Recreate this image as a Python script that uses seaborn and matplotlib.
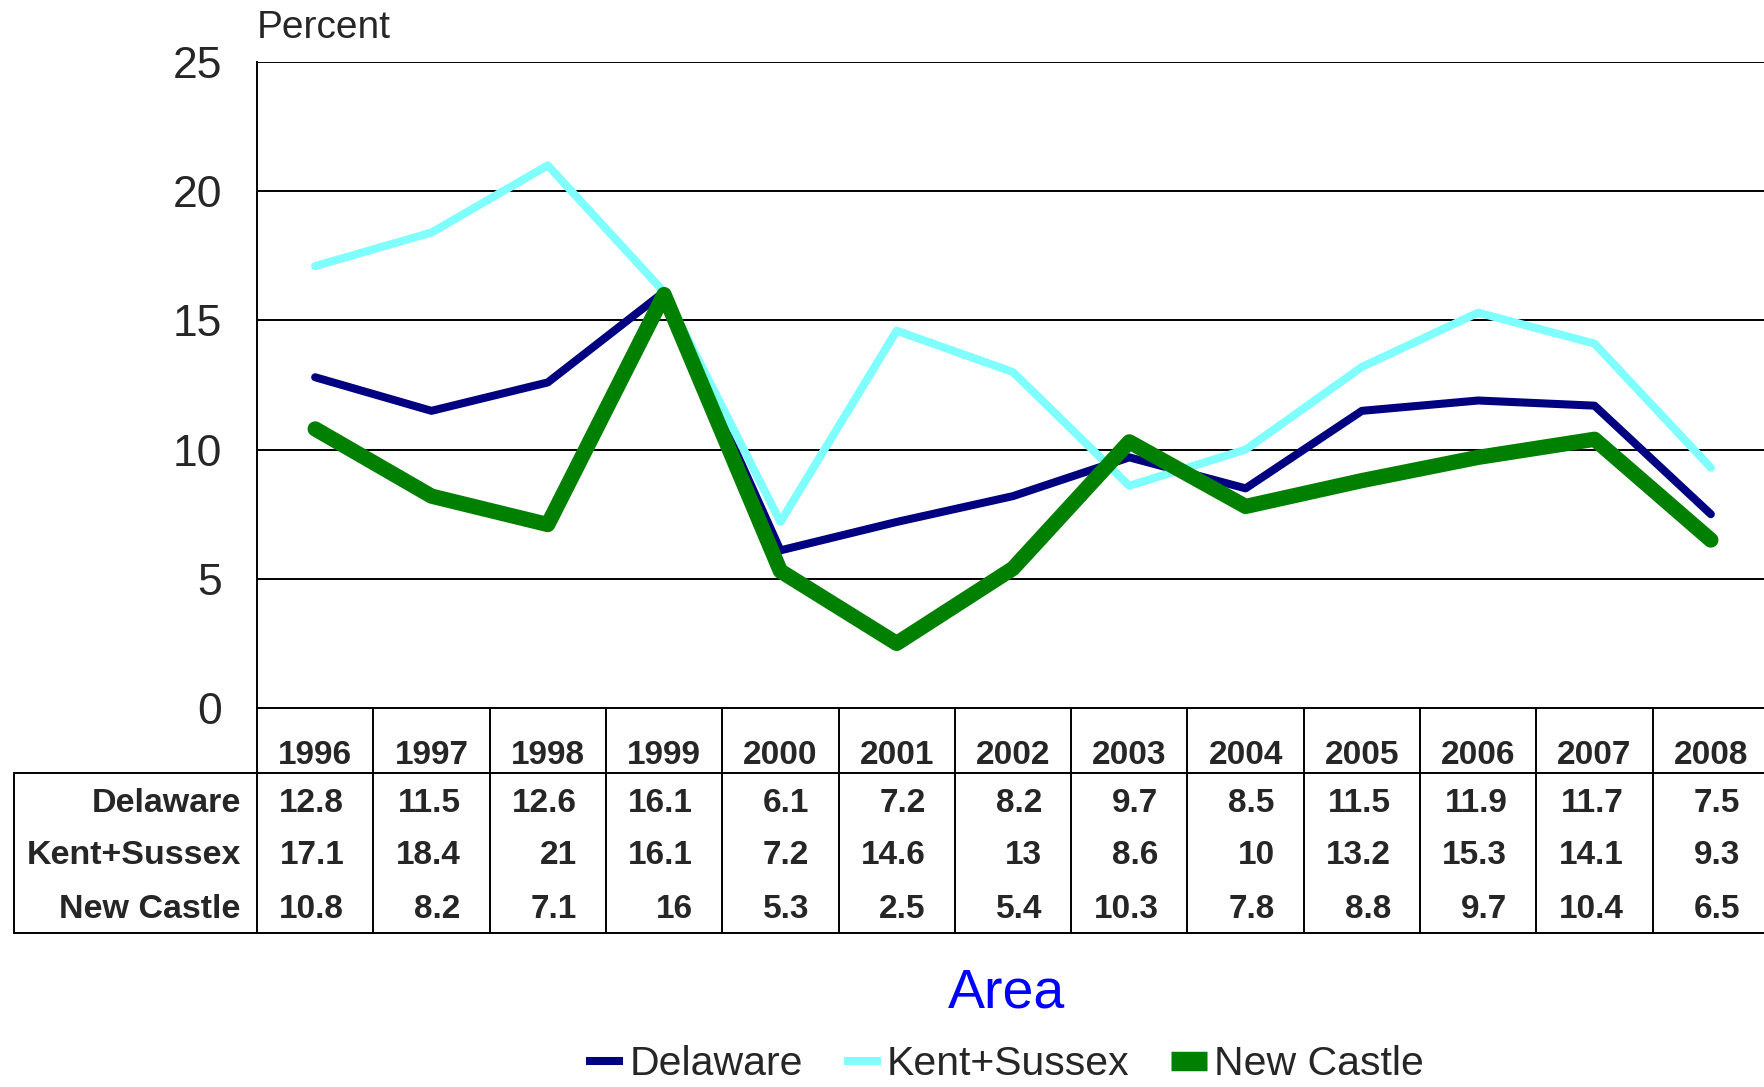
import pandas as pd
import seaborn as sns
from matplotlib import pyplot as plt
from matplotlib.lines import Line2D

# chart data
years = ["1996", "1997", "1998", "1999", "2000", "2001", "2002",
         "2003", "2004", "2005", "2006", "2007", "2008"]
delaware = [12.8, 11.5, 12.6, 16.1, 6.1, 7.2, 8.2, 9.7, 8.5, 11.5, 11.9, 11.7, 7.5]
kent_sussex = [17.1, 18.4, 21, 16.1, 7.2, 14.6, 13, 8.6, 10, 13.2, 15.3, 14.1, 9.3]
new_castle = [10.8, 8.2, 7.1, 16, 5.3, 2.5, 5.4, 10.3, 7.8, 8.8, 9.7, 10.4, 6.5]
areas = ["Delaware", "Kent+Sussex", "New Castle"]
y_ticks = [0, 5, 10, 15, 20, 25]

colors = {"Delaware": "#000080", "Kent+Sussex": "#80FFFF", "New Castle": "#008000"}
widths = {"Delaware": 5.8, "Kent+Sussex": 5.8, "New Castle": 11}

series = {"Delaware": delaware, "Kent+Sussex": kent_sussex, "New Castle": new_castle}
df = pd.concat([pd.DataFrame({"Year": years, "Percent": series[a], "Area": a})
                for a in areas], ignore_index=True)

sns.set_style("white")
plt.rcParams["font.family"] = ["Liberation Sans", "DejaVu Sans"]

W, H = 1765, 1087
fig = plt.figure(figsize=(W / 100, H / 100), dpi=100)

# main plot area (pixel layout converted to figure fractions)
left_px, right_px, top_px, bot_px = 257, 1769, 62, 708
ax = fig.add_axes([left_px / W, 1 - bot_px / H, (right_px - left_px) / W,
                   (bot_px - top_px) / H])

for a in areas:
    sub = df[df["Area"] == a]
    sns.lineplot(data=sub, x="Year", y="Percent", color=colors[a],
                 linewidth=widths[a], ax=ax, sort=False,
                 solid_capstyle="round", solid_joinstyle="round")

ax.set_xlim(-0.5, len(years) - 0.5)
ax.set_ylim(0, 25)
ax.set_yticks(y_ticks)
ax.set_yticklabels([str(t) for t in y_ticks], fontsize=32)
ax.tick_params(axis="y", length=0, pad=25)
ax.set_xticks([])
ax.set_xlabel("")
ax.set_ylabel("")
for t in y_ticks[1:]:
    ax.axhline(t, color="black", lw=1.4, zorder=0.5)
for s in ["top", "right", "bottom"]:
    ax.spines[s].set_visible(False)
ax.spines["left"].set_color("black")
ax.spines["left"].set_linewidth(1.4)

fig.text(left_px / W, 1 - 28 / H, "Percent", fontsize=28, va="center", ha="left")

# data table below the plot
tab_left_px, tab_bot_px = 13.5, 933
tax = fig.add_axes([tab_left_px / W, 1 - tab_bot_px / H,
                    (right_px - tab_left_px) / W, (tab_bot_px - bot_px) / H])
x_left = -0.5 - (left_px - tab_left_px) * len(years) / (right_px - left_px)
tax.set_xlim(x_left, len(years) - 0.5)
tax.set_ylim(225, 0)
tax.axis("off")

lw = 1.4
tax.plot([-0.5, len(years) - 0.5], [0, 0], color="black", lw=lw, clip_on=False)
tax.plot([x_left, len(years) - 0.5], [65, 65], color="black", lw=lw, clip_on=False)
tax.plot([x_left, len(years) - 0.5], [225, 225], color="black", lw=lw, clip_on=False)
tax.plot([x_left, x_left], [65, 225], color="black", lw=lw, clip_on=False)
for i in range(len(years)):
    tax.plot([i - 0.5, i - 0.5], [0, 225], color="black", lw=lw, clip_on=False)

for i, yr in enumerate(years):
    tax.text(i, 48, yr, ha="center", va="center", fontsize=24, fontweight="bold")

row_y = [95, 148, 201]
for r, a in enumerate(areas):
    tax.text(-0.64, row_y[r], a, ha="right", va="center", fontsize=24.5,
             fontweight="bold")
    for i, v in enumerate(series[a]):
        tax.text(i + 0.25, row_y[r], f"{v:g}", ha="right", va="center",
                 fontsize=24, fontweight="bold")

fig.text(1007 / W, 1 - 993 / H, "Area", color="#0000FF", fontsize=40,
         ha="center", va="center")

handles = [Line2D([0], [0], color=colors[a], lw=widths[a] if a != "New Castle" else 14,
                  solid_capstyle="butt") for a in areas]
fig.legend(handles, areas, loc="center", bbox_to_anchor=(1005 / W, 1 - 1064 / H),
           ncol=3, frameon=False, fontsize=29.5, handlelength=0.9,
           handletextpad=0.15, columnspacing=1.0, borderaxespad=0,
           borderpad=0.1)

fig.savefig("out.png", dpi=100)
